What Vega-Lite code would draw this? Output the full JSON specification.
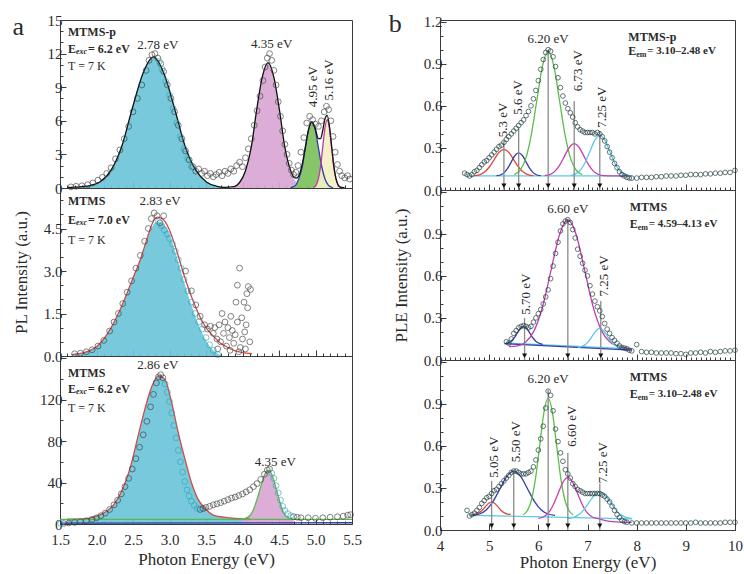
{
"$schema":"https://vega.github.io/schema/vega-lite/v6.json",
"background":"white",
"padding":{"left":11,"top":10,"right":5,"bottom":5},
"config":{
 "view":{"stroke":"#3a3a3a","strokeWidth":1},
 "axis":{"labelFont":"Liberation Serif","labelFontSize":15,"labelColor":"#2a2a2a","titleFont":"Liberation Serif","titleFontSize":17,"titleFontWeight":"normal","titleColor":"#2a2a2a","tickColor":"#3a3a3a","tickWidth":1,"grid":false,"labelPadding":4,"labelFlush":false,"labelOverlap":false,"labelBound":false},
 "axisX":{"labelPadding":14},
 "text":{"font":"Liberation Serif","color":"#2a2a2a"}
},
"datasets":{
"a1":[
{"k":"f","s":"g1","x":1.70,"y":0.05},{"k":"f","s":"g1","x":1.80,"y":0.1},{"k":"f","s":"g1","x":1.91,"y":0.2},{"k":"f","s":"g1","x":2.05,"y":0.55},{"k":"f","s":"g1","x":2.20,"y":1.6},{"k":"f","s":"g1","x":2.35,"y":3.8},{"k":"f","s":"g1","x":2.49,"y":7.1},{"k":"f","s":"g1","x":2.64,"y":10.3},{"k":"f","s":"g1","x":2.78,"y":11.7},{"k":"f","s":"g1","x":2.92,"y":10.3},{"k":"f","s":"g1","x":3.07,"y":7.1},{"k":"f","s":"g1","x":3.21,"y":3.8},{"k":"f","s":"g1","x":3.36,"y":1.6},{"k":"f","s":"g1","x":3.51,"y":0.5},{"k":"f","s":"g1","x":3.65,"y":0.13},{"k":"f","s":"g1","x":3.80,"y":0.02},
{"k":"f","s":"g2","x":3.85,"y":0.02},{"k":"f","s":"g2","x":3.885,"y":0.12},{"k":"f","s":"g2","x":3.96,"y":0.49},{"k":"f","s":"g2","x":4.04,"y":1.52},{"k":"f","s":"g2","x":4.12,"y":3.64},{"k":"f","s":"g2","x":4.19,"y":6.79},{"k":"f","s":"g2","x":4.27,"y":9.88},{"k":"f","s":"g2","x":4.35,"y":11.2},{"k":"f","s":"g2","x":4.43,"y":9.88},{"k":"f","s":"g2","x":4.51,"y":6.79},{"k":"f","s":"g2","x":4.58,"y":3.64},{"k":"f","s":"g2","x":4.66,"y":1.52},{"k":"f","s":"g2","x":4.74,"y":0.49},{"k":"f","s":"g2","x":4.815,"y":0.12},{"k":"f","s":"g2","x":4.85,"y":0.02},
{"k":"f","s":"g3","x":4.66,"y":0.02},{"k":"f","s":"g3","x":4.68,"y":0.07},{"k":"f","s":"g3","x":4.73,"y":0.26},{"k":"f","s":"g3","x":4.77,"y":0.8},{"k":"f","s":"g3","x":4.82,"y":1.92},{"k":"f","s":"g3","x":4.86,"y":3.58},{"k":"f","s":"g3","x":4.905,"y":5.21},{"k":"f","s":"g3","x":4.95,"y":5.9},{"k":"f","s":"g3","x":4.995,"y":5.21},{"k":"f","s":"g3","x":5.04,"y":3.58},{"k":"f","s":"g3","x":5.085,"y":1.92},{"k":"f","s":"g3","x":5.13,"y":0.8},{"k":"f","s":"g3","x":5.175,"y":0.26},{"k":"f","s":"g3","x":5.22,"y":0.07},{"k":"f","s":"g3","x":5.24,"y":0.02},
{"k":"f","s":"g4","x":4.97,"y":0.02},{"k":"f","s":"g4","x":4.98,"y":0.07},{"k":"f","s":"g4","x":5.01,"y":0.27},{"k":"f","s":"g4","x":5.04,"y":0.83},{"k":"f","s":"g4","x":5.07,"y":1.98},{"k":"f","s":"g4","x":5.10,"y":3.7},{"k":"f","s":"g4","x":5.13,"y":5.38},{"k":"f","s":"g4","x":5.16,"y":6.1},{"k":"f","s":"g4","x":5.19,"y":5.38},{"k":"f","s":"g4","x":5.22,"y":3.7},{"k":"f","s":"g4","x":5.25,"y":1.98},{"k":"f","s":"g4","x":5.28,"y":0.83},{"k":"f","s":"g4","x":5.31,"y":0.27},{"k":"f","s":"g4","x":5.34,"y":0.07},{"k":"f","s":"g4","x":5.35,"y":0.02},
{"k":"l","s":"tot","x":1.60,"y":0.03},{"k":"l","s":"tot","x":1.70,"y":0.07},{"k":"l","s":"tot","x":1.80,"y":0.12},{"k":"l","s":"tot","x":1.91,"y":0.22},{"k":"l","s":"tot","x":2.05,"y":0.56},{"k":"l","s":"tot","x":2.20,"y":1.6},{"k":"l","s":"tot","x":2.35,"y":3.8},{"k":"l","s":"tot","x":2.49,"y":7.1},{"k":"l","s":"tot","x":2.64,"y":10.3},{"k":"l","s":"tot","x":2.78,"y":11.7},{"k":"l","s":"tot","x":2.92,"y":10.3},{"k":"l","s":"tot","x":3.07,"y":7.1},{"k":"l","s":"tot","x":3.21,"y":3.8},{"k":"l","s":"tot","x":3.36,"y":1.6},{"k":"l","s":"tot","x":3.51,"y":0.52},{"k":"l","s":"tot","x":3.65,"y":0.15},{"k":"l","s":"tot","x":3.75,"y":0.06},{"k":"l","s":"tot","x":3.885,"y":0.13},{"k":"l","s":"tot","x":3.96,"y":0.49},{"k":"l","s":"tot","x":4.04,"y":1.52},{"k":"l","s":"tot","x":4.12,"y":3.64},{"k":"l","s":"tot","x":4.19,"y":6.79},{"k":"l","s":"tot","x":4.27,"y":9.88},{"k":"l","s":"tot","x":4.35,"y":11.2},{"k":"l","s":"tot","x":4.43,"y":9.88},{"k":"l","s":"tot","x":4.51,"y":6.79},{"k":"l","s":"tot","x":4.58,"y":3.64},{"k":"l","s":"tot","x":4.66,"y":1.55},{"k":"l","s":"tot","x":4.70,"y":1.0},{"k":"l","s":"tot","x":4.74,"y":0.88},{"k":"l","s":"tot","x":4.78,"y":1.23},{"k":"l","s":"tot","x":4.82,"y":2.17},{"k":"l","s":"tot","x":4.86,"y":3.6},{"k":"l","s":"tot","x":4.905,"y":5.21},{"k":"l","s":"tot","x":4.95,"y":5.91},{"k":"l","s":"tot","x":4.995,"y":5.35},{"k":"l","s":"tot","x":5.04,"y":4.41},{"k":"l","s":"tot","x":5.07,"y":4.42},{"k":"l","s":"tot","x":5.10,"y":5.17},{"k":"l","s":"tot","x":5.13,"y":6.18},{"k":"l","s":"tot","x":5.16,"y":6.49},{"k":"l","s":"tot","x":5.19,"y":5.55},{"k":"l","s":"tot","x":5.22,"y":3.77},{"k":"l","s":"tot","x":5.25,"y":2.0},{"k":"l","s":"tot","x":5.28,"y":0.83},{"k":"l","s":"tot","x":5.31,"y":0.27},{"k":"l","s":"tot","x":5.34,"y":0.07},{"k":"l","s":"tot","x":5.40,"y":0.02},
{"k":"p","s":"pk","x":1.65,"y":0.1},{"k":"p","s":"pk","x":1.72,"y":0.15},{"k":"p","s":"pk","x":1.8,"y":0.2},{"k":"p","s":"pk","x":1.88,"y":0.3},{"k":"p","s":"pk","x":1.95,"y":0.45},{"k":"p","s":"pk","x":2.02,"y":0.7},{"k":"p","s":"pk","x":2.08,"y":0.95},{"k":"p","s":"pk","x":2.14,"y":1.3},{"k":"p","s":"pk","x":2.2,"y":1.8},{"k":"p","s":"pk","x":2.26,"y":2.6},{"k":"p","s":"pk","x":2.32,"y":3.4},{"k":"p","s":"pk","x":2.38,"y":4.4},{"k":"p","s":"pk","x":2.44,"y":5.5},{"k":"p","s":"pk","x":2.5,"y":6.8},{"k":"p","s":"pk","x":2.56,"y":8.0},{"k":"p","s":"pk","x":2.62,"y":9.2},{"k":"p","s":"pk","x":2.68,"y":10.5},{"k":"p","s":"pk","x":2.72,"y":11.4},{"k":"p","s":"pk","x":2.76,"y":11.9},{"k":"p","s":"pk","x":2.8,"y":12.0},{"k":"p","s":"pk","x":2.84,"y":11.6},{"k":"p","s":"pk","x":2.88,"y":11.1},{"k":"p","s":"pk","x":2.92,"y":10.4},{"k":"p","s":"pk","x":2.97,"y":9.2},{"k":"p","s":"pk","x":3.02,"y":8.0},{"k":"p","s":"pk","x":3.07,"y":6.8},{"k":"p","s":"pk","x":3.12,"y":5.6},{"k":"p","s":"pk","x":3.17,"y":4.4},{"k":"p","s":"pk","x":3.22,"y":3.3},{"k":"p","s":"pk","x":3.27,"y":2.5},{"k":"p","s":"pk","x":3.32,"y":1.9},{"k":"p","s":"pk","x":3.36,"y":1.5},{"k":"p","s":"pk","x":3.4,"y":1.7},{"k":"p","s":"pk","x":3.44,"y":1.3},{"k":"p","s":"pk","x":3.48,"y":1.5},{"k":"p","s":"pk","x":3.52,"y":1.1},{"k":"p","s":"pk","x":3.56,"y":1.3},{"k":"p","s":"pk","x":3.6,"y":1.0},{"k":"p","s":"pk","x":3.64,"y":1.2},{"k":"p","s":"pk","x":3.68,"y":1.4},{"k":"p","s":"pk","x":3.72,"y":1.1},{"k":"p","s":"pk","x":3.76,"y":1.5},{"k":"p","s":"pk","x":3.8,"y":1.3},{"k":"p","s":"pk","x":3.84,"y":1.7},{"k":"p","s":"pk","x":3.88,"y":1.5},{"k":"p","s":"pk","x":3.92,"y":2.0},{"k":"p","s":"pk","x":3.96,"y":2.3},{"k":"p","s":"pk","x":4.0,"y":1.9},{"k":"p","s":"pk","x":4.04,"y":2.7},{"k":"p","s":"pk","x":4.08,"y":3.5},{"k":"p","s":"pk","x":4.12,"y":4.4},{"k":"p","s":"pk","x":4.16,"y":5.6},{"k":"p","s":"pk","x":4.2,"y":6.9},{"k":"p","s":"pk","x":4.24,"y":8.2},{"k":"p","s":"pk","x":4.28,"y":9.6},{"k":"p","s":"pk","x":4.31,"y":10.8},{"k":"p","s":"pk","x":4.34,"y":11.6},{"k":"p","s":"pk","x":4.37,"y":12.0},{"k":"p","s":"pk","x":4.4,"y":11.4},{"k":"p","s":"pk","x":4.43,"y":10.5},{"k":"p","s":"pk","x":4.46,"y":9.2},{"k":"p","s":"pk","x":4.49,"y":7.7},{"k":"p","s":"pk","x":4.52,"y":6.4},{"k":"p","s":"pk","x":4.55,"y":5.1},{"k":"p","s":"pk","x":4.58,"y":3.9},{"k":"p","s":"pk","x":4.61,"y":3.0},{"k":"p","s":"pk","x":4.64,"y":2.2},{"k":"p","s":"pk","x":4.67,"y":1.6},{"k":"p","s":"pk","x":4.7,"y":1.2},{"k":"p","s":"pk","x":4.73,"y":1.4},{"k":"p","s":"pk","x":4.76,"y":2.0},{"k":"p","s":"pk","x":4.8,"y":3.2},{"k":"p","s":"pk","x":4.84,"y":4.5},{"k":"p","s":"pk","x":4.88,"y":5.8},{"k":"p","s":"pk","x":4.92,"y":6.4},{"k":"p","s":"pk","x":4.96,"y":6.1},{"k":"p","s":"pk","x":5.0,"y":5.7},{"k":"p","s":"pk","x":5.04,"y":5.5},{"k":"p","s":"pk","x":5.08,"y":6.0},{"k":"p","s":"pk","x":5.12,"y":6.8},{"k":"p","s":"pk","x":5.15,"y":7.3},{"k":"p","s":"pk","x":5.18,"y":7.0},{"k":"p","s":"pk","x":5.21,"y":6.0},{"k":"p","s":"pk","x":5.24,"y":4.6},{"k":"p","s":"pk","x":5.27,"y":3.2},{"k":"p","s":"pk","x":5.3,"y":2.1},{"k":"p","s":"pk","x":5.33,"y":1.5},{"k":"p","s":"pk","x":5.36,"y":1.1},{"k":"p","s":"pk","x":5.4,"y":0.9},{"k":"p","s":"pk","x":5.44,"y":1.1},{"k":"p","s":"pk","x":5.47,"y":0.8},
{"k":"p","s":"pc","x":2.86,"y":11.3},{"k":"p","s":"pc","x":2.9,"y":10.6},{"k":"p","s":"pc","x":2.95,"y":9.5},{"k":"p","s":"pc","x":3.0,"y":8.3},{"k":"p","s":"pc","x":3.05,"y":7.1},{"k":"p","s":"pc","x":3.1,"y":5.8},{"k":"p","s":"pc","x":3.15,"y":4.6},{"k":"p","s":"pc","x":3.2,"y":3.5},{"k":"p","s":"pc","x":3.25,"y":2.6},{"k":"p","s":"pc","x":3.3,"y":1.9},
{"k":"pl","t":"2.78 eV","x":2.84,"y":12.75},{"k":"pl","t":"4.35 eV","x":4.40,"y":12.9},
{"k":"pr","t":"4.95 eV","x":4.97,"y":9.05},{"k":"pr","t":"5.16 eV","x":5.19,"y":9.65},
{"k":"nm","t":"MTMS-p","x":1.61,"y":13.9},
{"k":"E","t":"E","x":1.61,"y":12.45},{"k":"sub","t":"exc","x":1.61,"y":12.45},{"k":"rest","t":"= 6.2 eV","x":1.61,"y":12.45},
{"k":"T","t":"T = 7 K","x":1.61,"y":10.9},
{"k":"pn","t":"a","x":0.93,"y":14.4}
],
"a2":[
{"k":"f","s":"g1","x":1.66,"y":0.05},{"k":"f","s":"g1","x":1.8,"y":0.1},{"k":"f","s":"g1","x":1.9,"y":0.18},{"k":"f","s":"g1","x":2.0,"y":0.33},{"k":"f","s":"g1","x":2.1,"y":0.6},{"k":"f","s":"g1","x":2.2,"y":1.0},{"k":"f","s":"g1","x":2.3,"y":1.5},{"k":"f","s":"g1","x":2.4,"y":2.1},{"k":"f","s":"g1","x":2.5,"y":2.75},{"k":"f","s":"g1","x":2.6,"y":3.4},{"k":"f","s":"g1","x":2.7,"y":4.15},{"k":"f","s":"g1","x":2.76,"y":4.55},{"k":"f","s":"g1","x":2.83,"y":4.75},{"k":"f","s":"g1","x":2.9,"y":4.7},{"k":"f","s":"g1","x":3.0,"y":4.3},{"k":"f","s":"g1","x":3.1,"y":3.5},{"k":"f","s":"g1","x":3.2,"y":2.6},{"k":"f","s":"g1","x":3.3,"y":1.8},{"k":"f","s":"g1","x":3.4,"y":1.1},{"k":"f","s":"g1","x":3.5,"y":0.55},{"k":"f","s":"g1","x":3.6,"y":0.2},{"k":"f","s":"g1","x":3.7,"y":0.03},
{"k":"l","s":"red","x":1.66,"y":0.05},{"k":"l","s":"red","x":1.8,"y":0.1},{"k":"l","s":"red","x":1.9,"y":0.18},{"k":"l","s":"red","x":2.0,"y":0.33},{"k":"l","s":"red","x":2.1,"y":0.6},{"k":"l","s":"red","x":2.2,"y":1.0},{"k":"l","s":"red","x":2.3,"y":1.5},{"k":"l","s":"red","x":2.4,"y":2.1},{"k":"l","s":"red","x":2.5,"y":2.75},{"k":"l","s":"red","x":2.6,"y":3.4},{"k":"l","s":"red","x":2.7,"y":4.2},{"k":"l","s":"red","x":2.76,"y":4.65},{"k":"l","s":"red","x":2.83,"y":4.9},{"k":"l","s":"red","x":2.9,"y":4.85},{"k":"l","s":"red","x":3.0,"y":4.45},{"k":"l","s":"red","x":3.1,"y":3.7},{"k":"l","s":"red","x":3.2,"y":2.85},{"k":"l","s":"red","x":3.3,"y":2.1},{"k":"l","s":"red","x":3.4,"y":1.48},{"k":"l","s":"red","x":3.5,"y":1.0},{"k":"l","s":"red","x":3.6,"y":0.7},{"k":"l","s":"red","x":3.7,"y":0.45},{"k":"l","s":"red","x":3.8,"y":0.3},{"k":"l","s":"red","x":3.9,"y":0.18},{"k":"l","s":"red","x":4.0,"y":0.12},{"k":"l","s":"red","x":4.13,"y":0.08},
{"k":"p","s":"pk","x":1.7,"y":0.08},{"k":"p","s":"pk","x":1.78,"y":0.1},{"k":"p","s":"pk","x":1.86,"y":0.15},{"k":"p","s":"pk","x":1.94,"y":0.22},{"k":"p","s":"pk","x":2.02,"y":0.35},{"k":"p","s":"pk","x":2.1,"y":0.55},{"k":"p","s":"pk","x":2.18,"y":0.88},{"k":"p","s":"pk","x":2.24,"y":1.2},{"k":"p","s":"pk","x":2.3,"y":1.5},{"k":"p","s":"pk","x":2.36,"y":1.85},{"k":"p","s":"pk","x":2.42,"y":2.25},{"k":"p","s":"pk","x":2.48,"y":2.65},{"k":"p","s":"pk","x":2.54,"y":3.1},{"k":"p","s":"pk","x":2.6,"y":3.55},{"k":"p","s":"pk","x":2.66,"y":4.05},{"k":"p","s":"pk","x":2.71,"y":4.5},{"k":"p","s":"pk","x":2.75,"y":4.85},{"k":"p","s":"pk","x":2.79,"y":5.05},{"k":"p","s":"pk","x":2.83,"y":4.95},{"k":"p","s":"pk","x":2.87,"y":4.7},{"k":"p","s":"pk","x":2.92,"y":4.95},{"k":"p","s":"pk","x":3.22,"y":3.0},{"k":"p","s":"pk","x":3.3,"y":2.3},{"k":"p","s":"pk","x":3.36,"y":1.8},{"k":"p","s":"pk","x":3.42,"y":1.4},{"k":"p","s":"pk","x":3.48,"y":1.1},{"k":"p","s":"pk","x":3.52,"y":0.95},{"k":"p","s":"pk","x":3.56,"y":1.05},{"k":"p","s":"pk","x":3.6,"y":0.8},{"k":"p","s":"pk","x":3.62,"y":1.0},{"k":"p","s":"pk","x":3.65,"y":0.6},{"k":"p","s":"pk","x":3.68,"y":1.1},{"k":"p","s":"pk","x":3.7,"y":0.5},{"k":"p","s":"pk","x":3.72,"y":1.5},{"k":"p","s":"pk","x":3.74,"y":0.8},{"k":"p","s":"pk","x":3.76,"y":1.2},{"k":"p","s":"pk","x":3.78,"y":0.35},{"k":"p","s":"pk","x":3.8,"y":1.0},{"k":"p","s":"pk","x":3.82,"y":0.65},{"k":"p","s":"pk","x":3.84,"y":1.4},{"k":"p","s":"pk","x":3.86,"y":0.9},{"k":"p","s":"pk","x":3.88,"y":0.45},{"k":"p","s":"pk","x":3.9,"y":0.75},{"k":"p","s":"pk","x":3.91,"y":1.9},{"k":"p","s":"pk","x":3.93,"y":1.2},{"k":"p","s":"pk","x":3.93,"y":2.5},{"k":"p","s":"pk","x":3.96,"y":3.1},{"k":"p","s":"pk","x":3.97,"y":0.3},{"k":"p","s":"pk","x":3.99,"y":1.35},{"k":"p","s":"pk","x":4.0,"y":0.6},{"k":"p","s":"pk","x":4.02,"y":1.9},{"k":"p","s":"pk","x":4.03,"y":0.85},{"k":"p","s":"pk","x":4.04,"y":0.25},{"k":"p","s":"pk","x":4.05,"y":1.1},{"k":"p","s":"pk","x":4.06,"y":2.2},{"k":"p","s":"pk","x":4.07,"y":1.7},{"k":"p","s":"pk","x":4.08,"y":2.45},{"k":"p","s":"pk","x":4.1,"y":0.5},{"k":"p","s":"pk","x":4.11,"y":2.35},{"k":"p","s":"pk","x":3.95,"y":0.15},{"k":"p","s":"pk","x":3.83,"y":0.2},{"k":"p","s":"pk","x":3.66,"y":0.25},
{"k":"p","s":"pc","x":2.85,"y":4.75},{"k":"p","s":"pc","x":2.89,"y":4.6},{"k":"p","s":"pc","x":2.93,"y":4.45},{"k":"p","s":"pc","x":2.97,"y":4.3},{"k":"p","s":"pc","x":3.0,"y":4.15},{"k":"p","s":"pc","x":3.04,"y":3.95},{"k":"p","s":"pc","x":3.08,"y":3.7},{"k":"p","s":"pc","x":3.12,"y":3.4},{"k":"p","s":"pc","x":3.16,"y":3.1},{"k":"p","s":"pc","x":3.2,"y":2.7},{"k":"p","s":"pc","x":3.25,"y":2.3},{"k":"p","s":"pc","x":3.3,"y":1.9},{"k":"p","s":"pc","x":3.35,"y":1.5},{"k":"p","s":"pc","x":3.4,"y":1.2},{"k":"p","s":"pc","x":3.45,"y":0.95},{"k":"p","s":"pc","x":3.5,"y":0.65},{"k":"p","s":"pc","x":3.55,"y":0.4},{"k":"p","s":"pc","x":3.6,"y":0.2},{"k":"p","s":"pc","x":3.66,"y":0.05},
{"k":"pl","t":"2.83 eV","x":2.87,"y":5.47},
{"k":"nm","t":"MTMS","x":1.61,"y":5.47},
{"k":"E","t":"E","x":1.61,"y":4.81},{"k":"sub","t":"exc","x":1.61,"y":4.81},{"k":"rest","t":"= 7.0 eV","x":1.61,"y":4.81},
{"k":"T","t":"T = 7 K","x":1.61,"y":4.1}
],
"a3":[
{"k":"f","s":"g1","x":1.6,"y":4.6},{"k":"f","s":"g1","x":1.8,"y":4.8},{"k":"f","s":"g1","x":1.89,"y":5.5},{"k":"f","s":"g1","x":2.0,"y":7.5},{"k":"f","s":"g1","x":2.12,"y":11.5},{"k":"f","s":"g1","x":2.24,"y":19},{"k":"f","s":"g1","x":2.34,"y":31},{"k":"f","s":"g1","x":2.42,"y":45},{"k":"f","s":"g1","x":2.48,"y":59},{"k":"f","s":"g1","x":2.57,"y":85},{"k":"f","s":"g1","x":2.66,"y":110},{"k":"f","s":"g1","x":2.76,"y":133},{"k":"f","s":"g1","x":2.85,"y":143},{"k":"f","s":"g1","x":2.94,"y":139},{"k":"f","s":"g1","x":3.03,"y":117},{"k":"f","s":"g1","x":3.12,"y":88},{"k":"f","s":"g1","x":3.21,"y":63},{"k":"f","s":"g1","x":3.3,"y":40},{"k":"f","s":"g1","x":3.39,"y":24},{"k":"f","s":"g1","x":3.49,"y":15},{"k":"f","s":"g1","x":3.62,"y":8},{"k":"f","s":"g1","x":3.81,"y":6},{"k":"f","s":"g1","x":3.99,"y":5},{"k":"f","s":"g1","x":4.1,"y":4.8},
{"k":"l","s":"red","x":1.6,"y":4.6},{"k":"l","s":"red","x":1.8,"y":4.8},{"k":"l","s":"red","x":1.89,"y":5.5},{"k":"l","s":"red","x":2.0,"y":7.5},{"k":"l","s":"red","x":2.12,"y":11.5},{"k":"l","s":"red","x":2.24,"y":19},{"k":"l","s":"red","x":2.34,"y":31},{"k":"l","s":"red","x":2.42,"y":45},{"k":"l","s":"red","x":2.48,"y":59},{"k":"l","s":"red","x":2.57,"y":85},{"k":"l","s":"red","x":2.66,"y":110},{"k":"l","s":"red","x":2.76,"y":133},{"k":"l","s":"red","x":2.85,"y":143},{"k":"l","s":"red","x":2.94,"y":139},{"k":"l","s":"red","x":3.03,"y":117},{"k":"l","s":"red","x":3.12,"y":88},{"k":"l","s":"red","x":3.21,"y":63},{"k":"l","s":"red","x":3.3,"y":40},{"k":"l","s":"red","x":3.39,"y":24},{"k":"l","s":"red","x":3.49,"y":15},{"k":"l","s":"red","x":3.62,"y":8},{"k":"l","s":"red","x":3.81,"y":6},{"k":"l","s":"red","x":3.99,"y":5},{"k":"l","s":"red","x":4.1,"y":4.8},
{"k":"f","s":"g2","x":4.0,"y":4.5},{"k":"f","s":"g2","x":4.1,"y":8},{"k":"f","s":"g2","x":4.15,"y":14},{"k":"f","s":"g2","x":4.2,"y":24},{"k":"f","s":"g2","x":4.25,"y":36},{"k":"f","s":"g2","x":4.3,"y":47},{"k":"f","s":"g2","x":4.35,"y":52},{"k":"f","s":"g2","x":4.4,"y":48},{"k":"f","s":"g2","x":4.45,"y":37},{"k":"f","s":"g2","x":4.5,"y":24},{"k":"f","s":"g2","x":4.55,"y":13},{"k":"f","s":"g2","x":4.6,"y":7},{"k":"f","s":"g2","x":4.7,"y":4.5},
{"k":"l","s":"gout","x":4.0,"y":4.5},{"k":"l","s":"gout","x":4.1,"y":8},{"k":"l","s":"gout","x":4.15,"y":14},{"k":"l","s":"gout","x":4.2,"y":24},{"k":"l","s":"gout","x":4.25,"y":36},{"k":"l","s":"gout","x":4.3,"y":47},{"k":"l","s":"gout","x":4.35,"y":52},{"k":"l","s":"gout","x":4.4,"y":48},{"k":"l","s":"gout","x":4.45,"y":37},{"k":"l","s":"gout","x":4.5,"y":24},{"k":"l","s":"gout","x":4.55,"y":13},{"k":"l","s":"gout","x":4.6,"y":7},{"k":"l","s":"gout","x":4.7,"y":4.5},
{"k":"l","s":"gb","x":1.5,"y":4.5},{"k":"l","s":"gb","x":5.5,"y":4.5},
{"k":"l","s":"bb","x":1.5,"y":0.8},{"k":"l","s":"bb","x":5.5,"y":1.2},
{"k":"p","s":"pc","x":1.51,"y":0.5},
{"k":"p","s":"pk","x":1.55,"y":0.5},{"k":"p","s":"pk","x":1.62,"y":1},{"k":"p","s":"pk","x":1.7,"y":1.5},{"k":"p","s":"pk","x":1.78,"y":2.2},{"k":"p","s":"pk","x":1.86,"y":3.2},{"k":"p","s":"pk","x":1.94,"y":4.5},{"k":"p","s":"pk","x":2.0,"y":6},{"k":"p","s":"pk","x":2.06,"y":8},{"k":"p","s":"pk","x":2.12,"y":10.5},{"k":"p","s":"pk","x":2.18,"y":14},{"k":"p","s":"pk","x":2.24,"y":18.5},{"k":"p","s":"pk","x":2.29,"y":23},{"k":"p","s":"pk","x":2.34,"y":29},{"k":"p","s":"pk","x":2.39,"y":36},{"k":"p","s":"pk","x":2.44,"y":44},{"k":"p","s":"pk","x":2.49,"y":53},{"k":"p","s":"pk","x":2.54,"y":63},{"k":"p","s":"pk","x":2.59,"y":74},{"k":"p","s":"pk","x":2.64,"y":86},{"k":"p","s":"pk","x":2.69,"y":99},{"k":"p","s":"pk","x":2.74,"y":113},{"k":"p","s":"pk","x":2.78,"y":125},{"k":"p","s":"pk","x":2.82,"y":136},{"k":"p","s":"pk","x":2.85,"y":142},{"k":"p","s":"pk","x":2.88,"y":144},{"k":"p","s":"pk","x":2.91,"y":141},
{"k":"p","s":"pc","x":2.94,"y":135},{"k":"p","s":"pc","x":2.97,"y":127},{"k":"p","s":"pc","x":3.0,"y":118},{"k":"p","s":"pc","x":3.03,"y":107},{"k":"p","s":"pc","x":3.06,"y":95},{"k":"p","s":"pc","x":3.09,"y":83},{"k":"p","s":"pc","x":3.12,"y":71},{"k":"p","s":"pc","x":3.15,"y":60},{"k":"p","s":"pc","x":3.18,"y":50},{"k":"p","s":"pc","x":3.21,"y":41},{"k":"p","s":"pc","x":3.24,"y":33},{"k":"p","s":"pc","x":3.27,"y":27},{"k":"p","s":"pc","x":3.3,"y":22},{"k":"p","s":"pc","x":3.34,"y":18},{"k":"p","s":"pc","x":3.38,"y":15},
{"k":"p","s":"pk","x":3.42,"y":14},{"k":"p","s":"pk","x":3.46,"y":15},{"k":"p","s":"pk","x":3.5,"y":16},{"k":"p","s":"pk","x":3.55,"y":17},{"k":"p","s":"pk","x":3.6,"y":18.5},{"k":"p","s":"pk","x":3.65,"y":19.5},{"k":"p","s":"pk","x":3.7,"y":20.5},{"k":"p","s":"pk","x":3.75,"y":22},{"k":"p","s":"pk","x":3.8,"y":23.5},{"k":"p","s":"pk","x":3.85,"y":25},{"k":"p","s":"pk","x":3.9,"y":26},{"k":"p","s":"pk","x":3.95,"y":27.5},{"k":"p","s":"pk","x":4.0,"y":29},{"k":"p","s":"pk","x":4.05,"y":31},{"k":"p","s":"pk","x":4.1,"y":33},{"k":"p","s":"pk","x":4.15,"y":36},{"k":"p","s":"pk","x":4.2,"y":39},{"k":"p","s":"pk","x":4.25,"y":43},{"k":"p","s":"pk","x":4.3,"y":48},{"k":"p","s":"pk","x":4.34,"y":52},{"k":"p","s":"pk","x":4.37,"y":53},
{"k":"p","s":"pc","x":4.4,"y":49},{"k":"p","s":"pc","x":4.43,"y":44},{"k":"p","s":"pc","x":4.46,"y":37},{"k":"p","s":"pc","x":4.49,"y":30},{"k":"p","s":"pc","x":4.52,"y":23},{"k":"p","s":"pc","x":4.55,"y":17},{"k":"p","s":"pc","x":4.58,"y":13},{"k":"p","s":"pc","x":4.62,"y":10},{"k":"p","s":"pc","x":4.66,"y":8},
{"k":"p","s":"pk","x":4.7,"y":7},{"k":"p","s":"pk","x":4.75,"y":6.5},{"k":"p","s":"pk","x":4.8,"y":6},{"k":"p","s":"pk","x":4.9,"y":6},{"k":"p","s":"pk","x":5.0,"y":5.5},{"k":"p","s":"pk","x":5.1,"y":6},{"k":"p","s":"pk","x":5.2,"y":6.5},{"k":"p","s":"pk","x":5.3,"y":7},{"k":"p","s":"pk","x":5.38,"y":7.5},{"k":"p","s":"pk","x":5.44,"y":8.5},{"k":"p","s":"pk","x":5.48,"y":9},
{"k":"pl","t":"2.86 eV","x":2.84,"y":153.6},{"k":"pl","t":"4.35 eV","x":4.45,"y":60},
{"k":"nm","t":"MTMS","x":1.61,"y":146},
{"k":"E","t":"E","x":1.61,"y":130},{"k":"sub","t":"exc","x":1.61,"y":130},{"k":"rest","t":"= 6.2 eV","x":1.61,"y":130},
{"k":"T","t":"T = 7 K","x":1.61,"y":112}
],
"b1":[
{"k":"l","s":"base","x":4.6,"y":0.1},{"k":"l","s":"base","x":7.9,"y":0.1},
{"k":"l","s":"r","x":4.7,"y":0.102},{"k":"l","s":"r","x":4.8,"y":0.108},{"k":"l","s":"r","x":4.9,"y":0.126},{"k":"l","s":"r","x":5.0,"y":0.162},{"k":"l","s":"r","x":5.1,"y":0.215},{"k":"l","s":"r","x":5.2,"y":0.268},{"k":"l","s":"r","x":5.3,"y":0.29},{"k":"l","s":"r","x":5.4,"y":0.268},{"k":"l","s":"r","x":5.5,"y":0.215},{"k":"l","s":"r","x":5.6,"y":0.162},{"k":"l","s":"r","x":5.7,"y":0.126},{"k":"l","s":"r","x":5.8,"y":0.108},{"k":"l","s":"r","x":5.9,"y":0.102},
{"k":"l","s":"b","x":5.15,"y":0.102},{"k":"l","s":"b","x":5.225,"y":0.107},{"k":"l","s":"b","x":5.3,"y":0.122},{"k":"l","s":"b","x":5.375,"y":0.154},{"k":"l","s":"b","x":5.45,"y":0.2},{"k":"l","s":"b","x":5.525,"y":0.246},{"k":"l","s":"b","x":5.6,"y":0.265},{"k":"l","s":"b","x":5.675,"y":0.246},{"k":"l","s":"b","x":5.75,"y":0.2},{"k":"l","s":"b","x":5.825,"y":0.154},{"k":"l","s":"b","x":5.9,"y":0.122},{"k":"l","s":"b","x":5.975,"y":0.107},{"k":"l","s":"b","x":6.05,"y":0.102},
{"k":"l","s":"g","x":5.51,"y":0.11},{"k":"l","s":"g","x":5.625,"y":0.139},{"k":"l","s":"g","x":5.74,"y":0.22},{"k":"l","s":"g","x":5.855,"y":0.389},{"k":"l","s":"g","x":5.97,"y":0.64},{"k":"l","s":"g","x":6.085,"y":0.885},{"k":"l","s":"g","x":6.2,"y":0.99},{"k":"l","s":"g","x":6.315,"y":0.885},{"k":"l","s":"g","x":6.43,"y":0.64},{"k":"l","s":"g","x":6.545,"y":0.389},{"k":"l","s":"g","x":6.66,"y":0.22},{"k":"l","s":"g","x":6.775,"y":0.139},{"k":"l","s":"g","x":6.89,"y":0.11},
{"k":"l","s":"m","x":6.13,"y":0.103},{"k":"l","s":"m","x":6.23,"y":0.11},{"k":"l","s":"m","x":6.33,"y":0.131},{"k":"l","s":"m","x":6.43,"y":0.175},{"k":"l","s":"m","x":6.53,"y":0.24},{"k":"l","s":"m","x":6.63,"y":0.303},{"k":"l","s":"m","x":6.73,"y":0.33},{"k":"l","s":"m","x":6.83,"y":0.303},{"k":"l","s":"m","x":6.93,"y":0.24},{"k":"l","s":"m","x":7.03,"y":0.175},{"k":"l","s":"m","x":7.13,"y":0.131},{"k":"l","s":"m","x":7.23,"y":0.11},{"k":"l","s":"m","x":7.33,"y":0.103},{"k":"l","s":"m","x":7.8,"y":0.1},
{"k":"l","s":"c","x":6.65,"y":0.103},{"k":"l","s":"c","x":6.75,"y":0.113},{"k":"l","s":"c","x":6.85,"y":0.139},{"k":"l","s":"c","x":6.95,"y":0.194},{"k":"l","s":"c","x":7.05,"y":0.276},{"k":"l","s":"c","x":7.15,"y":0.356},{"k":"l","s":"c","x":7.25,"y":0.39},{"k":"l","s":"c","x":7.35,"y":0.356},{"k":"l","s":"c","x":7.45,"y":0.276},{"k":"l","s":"c","x":7.55,"y":0.194},{"k":"l","s":"c","x":7.65,"y":0.139},{"k":"l","s":"c","x":7.75,"y":0.113},{"k":"l","s":"c","x":7.85,"y":0.103},
{"k":"v","x":5.3,"y":0.35},{"k":"v","x":5.6,"y":0.44},{"k":"v","x":6.2,"y":1.0},{"k":"v","x":6.73,"y":0.635},{"k":"v","x":7.25,"y":0.42},
{"k":"p","s":"pk","x":4.5,"y":0.12},{"k":"p","s":"pk","x":4.55,"y":0.11},{"k":"p","s":"pk","x":4.6,"y":0.1},{"k":"p","s":"pk","x":4.65,"y":0.11},{"k":"p","s":"pk","x":4.7,"y":0.13},{"k":"p","s":"pk","x":4.75,"y":0.14},{"k":"p","s":"pk","x":4.8,"y":0.16},{"k":"p","s":"pk","x":4.85,"y":0.18},{"k":"p","s":"pk","x":4.9,"y":0.2},{"k":"p","s":"pk","x":4.95,"y":0.21},{"k":"p","s":"pk","x":5.0,"y":0.23},{"k":"p","s":"pk","x":5.05,"y":0.25},{"k":"p","s":"pk","x":5.1,"y":0.27},{"k":"p","s":"pk","x":5.15,"y":0.29},{"k":"p","s":"pk","x":5.2,"y":0.31},{"k":"p","s":"pk","x":5.25,"y":0.32},{"k":"p","s":"pk","x":5.3,"y":0.34},{"k":"p","s":"pk","x":5.35,"y":0.36},{"k":"p","s":"pk","x":5.4,"y":0.38},{"k":"p","s":"pk","x":5.45,"y":0.4},{"k":"p","s":"pk","x":5.5,"y":0.42},{"k":"p","s":"pk","x":5.55,"y":0.44},{"k":"p","s":"pk","x":5.6,"y":0.46},{"k":"p","s":"pk","x":5.65,"y":0.48},{"k":"p","s":"pk","x":5.7,"y":0.5},{"k":"p","s":"pk","x":5.75,"y":0.53},{"k":"p","s":"pk","x":5.8,"y":0.56},{"k":"p","s":"pk","x":5.85,"y":0.6},{"k":"p","s":"pk","x":5.9,"y":0.65},{"k":"p","s":"pk","x":5.95,"y":0.71},{"k":"p","s":"pk","x":6.0,"y":0.78},{"k":"p","s":"pk","x":6.05,"y":0.86},{"k":"p","s":"pk","x":6.1,"y":0.93},{"k":"p","s":"pk","x":6.15,"y":0.98},{"k":"p","s":"pk","x":6.2,"y":1.0},{"k":"p","s":"pk","x":6.25,"y":0.99},{"k":"p","s":"pk","x":6.3,"y":0.95},{"k":"p","s":"pk","x":6.35,"y":0.88},{"k":"p","s":"pk","x":6.4,"y":0.8},{"k":"p","s":"pk","x":6.45,"y":0.73},{"k":"p","s":"pk","x":6.5,"y":0.67},{"k":"p","s":"pk","x":6.55,"y":0.62},{"k":"p","s":"pk","x":6.6,"y":0.58},{"k":"p","s":"pk","x":6.65,"y":0.55},{"k":"p","s":"pk","x":6.7,"y":0.52},{"k":"p","s":"pk","x":6.75,"y":0.48},{"k":"p","s":"pk","x":6.8,"y":0.45},{"k":"p","s":"pk","x":6.85,"y":0.43},{"k":"p","s":"pk","x":6.9,"y":0.42},{"k":"p","s":"pk","x":6.95,"y":0.41},{"k":"p","s":"pk","x":7.0,"y":0.41},{"k":"p","s":"pk","x":7.05,"y":0.41},{"k":"p","s":"pk","x":7.1,"y":0.41},{"k":"p","s":"pk","x":7.15,"y":0.4},{"k":"p","s":"pk","x":7.2,"y":0.41},{"k":"p","s":"pk","x":7.25,"y":0.4},{"k":"p","s":"pk","x":7.3,"y":0.38},{"k":"p","s":"pk","x":7.35,"y":0.35},{"k":"p","s":"pk","x":7.4,"y":0.31},{"k":"p","s":"pk","x":7.45,"y":0.27},{"k":"p","s":"pk","x":7.5,"y":0.23},{"k":"p","s":"pk","x":7.55,"y":0.19},{"k":"p","s":"pk","x":7.6,"y":0.16},{"k":"p","s":"pk","x":7.65,"y":0.13},{"k":"p","s":"pk","x":7.7,"y":0.11},{"k":"p","s":"pk","x":7.75,"y":0.1},{"k":"p","s":"pk","x":7.8,"y":0.09},{"k":"p","s":"pk","x":7.85,"y":0.085},{"k":"p","s":"pk","x":7.9,"y":0.085},{"k":"p","s":"pk","x":8.0,"y":0.085},{"k":"p","s":"pk","x":8.1,"y":0.09},{"k":"p","s":"pk","x":8.2,"y":0.09},{"k":"p","s":"pk","x":8.3,"y":0.09},{"k":"p","s":"pk","x":8.4,"y":0.095},{"k":"p","s":"pk","x":8.5,"y":0.095},{"k":"p","s":"pk","x":8.6,"y":0.1},{"k":"p","s":"pk","x":8.7,"y":0.1},{"k":"p","s":"pk","x":8.8,"y":0.1},{"k":"p","s":"pk","x":8.9,"y":0.105},{"k":"p","s":"pk","x":9.0,"y":0.105},{"k":"p","s":"pk","x":9.1,"y":0.11},{"k":"p","s":"pk","x":9.2,"y":0.11},{"k":"p","s":"pk","x":9.3,"y":0.11},{"k":"p","s":"pk","x":9.4,"y":0.115},{"k":"p","s":"pk","x":9.5,"y":0.115},{"k":"p","s":"pk","x":9.6,"y":0.12},{"k":"p","s":"pk","x":9.7,"y":0.12},{"k":"p","s":"pk","x":9.8,"y":0.125},{"k":"p","s":"pk","x":9.9,"y":0.125},{"k":"p","s":"pk","x":10.0,"y":0.14},
{"k":"pl","t":"6.20 eV","x":6.2,"y":1.08},
{"k":"pr","t":"5.3 eV","x":5.29,"y":0.5},{"k":"pr","t":"5.6 eV","x":5.59,"y":0.66},{"k":"pr","t":"6.73 eV","x":6.81,"y":0.85},{"k":"pr","t":"7.25 eV","x":7.29,"y":0.59},
{"k":"nm","t":"MTMS-p","x":7.83,"y":1.09},
{"k":"E","t":"E","x":7.83,"y":0.99},{"k":"sub","t":"em","x":7.83,"y":0.99},{"k":"rest","t":"= 3.10–2.48 eV","x":7.83,"y":0.99},
{"k":"pn","t":"b","x":3.09,"y":1.18}
],
"b2":[
{"k":"l","s":"base","x":5.35,"y":0.12},{"k":"l","s":"base","x":7.9,"y":0.08},
{"k":"l","s":"bl","x":5.35,"y":0.115},{"k":"l","s":"bl","x":7.9,"y":0.07},
{"k":"l","s":"b","x":5.31,"y":0.116},{"k":"l","s":"b","x":5.375,"y":0.12},{"k":"l","s":"b","x":5.44,"y":0.132},{"k":"l","s":"b","x":5.505,"y":0.156},{"k":"l","s":"b","x":5.57,"y":0.191},{"k":"l","s":"b","x":5.635,"y":0.225},{"k":"l","s":"b","x":5.7,"y":0.24},{"k":"l","s":"b","x":5.765,"y":0.225},{"k":"l","s":"b","x":5.83,"y":0.19},{"k":"l","s":"b","x":5.895,"y":0.155},{"k":"l","s":"b","x":5.96,"y":0.13},{"k":"l","s":"b","x":6.025,"y":0.118},{"k":"l","s":"b","x":6.09,"y":0.112},
{"k":"l","s":"m","x":5.4,"y":0.095},{"k":"l","s":"m","x":5.58,"y":0.1},{"k":"l","s":"m","x":5.75,"y":0.13},{"k":"l","s":"m","x":5.92,"y":0.213},{"k":"l","s":"m","x":6.09,"y":0.385},{"k":"l","s":"m","x":6.26,"y":0.642},{"k":"l","s":"m","x":6.43,"y":0.893},{"k":"l","s":"m","x":6.6,"y":1.0},{"k":"l","s":"m","x":6.77,"y":0.893},{"k":"l","s":"m","x":6.94,"y":0.642},{"k":"l","s":"m","x":7.11,"y":0.385},{"k":"l","s":"m","x":7.28,"y":0.213},{"k":"l","s":"m","x":7.45,"y":0.13},{"k":"l","s":"m","x":7.62,"y":0.1},{"k":"l","s":"m","x":7.85,"y":0.08},
{"k":"l","s":"c","x":6.8,"y":0.091},{"k":"l","s":"c","x":6.875,"y":0.096},{"k":"l","s":"c","x":6.95,"y":0.108},{"k":"l","s":"c","x":7.025,"y":0.134},{"k":"l","s":"c","x":7.1,"y":0.172},{"k":"l","s":"c","x":7.175,"y":0.209},{"k":"l","s":"c","x":7.25,"y":0.225},{"k":"l","s":"c","x":7.325,"y":0.209},{"k":"l","s":"c","x":7.4,"y":0.172},{"k":"l","s":"c","x":7.475,"y":0.134},{"k":"l","s":"c","x":7.55,"y":0.108},{"k":"l","s":"c","x":7.625,"y":0.096},{"k":"l","s":"c","x":7.7,"y":0.091},
{"k":"v","x":5.72,"y":0.3},{"k":"v","x":6.6,"y":1.0},{"k":"v","x":7.27,"y":0.42},
{"k":"p","s":"pk","x":5.35,"y":0.13},{"k":"p","s":"pk","x":5.4,"y":0.12},{"k":"p","s":"pk","x":5.45,"y":0.15},{"k":"p","s":"pk","x":5.5,"y":0.19},{"k":"p","s":"pk","x":5.55,"y":0.21},{"k":"p","s":"pk","x":5.6,"y":0.23},{"k":"p","s":"pk","x":5.65,"y":0.24},{"k":"p","s":"pk","x":5.7,"y":0.245},{"k":"p","s":"pk","x":5.75,"y":0.24},{"k":"p","s":"pk","x":5.8,"y":0.23},{"k":"p","s":"pk","x":5.85,"y":0.24},{"k":"p","s":"pk","x":5.9,"y":0.27},{"k":"p","s":"pk","x":5.95,"y":0.3},{"k":"p","s":"pk","x":6.0,"y":0.33},{"k":"p","s":"pk","x":6.05,"y":0.36},{"k":"p","s":"pk","x":6.1,"y":0.4},{"k":"p","s":"pk","x":6.15,"y":0.45},{"k":"p","s":"pk","x":6.2,"y":0.5},{"k":"p","s":"pk","x":6.25,"y":0.58},{"k":"p","s":"pk","x":6.3,"y":0.67},{"k":"p","s":"pk","x":6.35,"y":0.76},{"k":"p","s":"pk","x":6.4,"y":0.84},{"k":"p","s":"pk","x":6.45,"y":0.92},{"k":"p","s":"pk","x":6.5,"y":0.97},{"k":"p","s":"pk","x":6.55,"y":0.99},{"k":"p","s":"pk","x":6.6,"y":1.0},{"k":"p","s":"pk","x":6.65,"y":0.98},{"k":"p","s":"pk","x":6.7,"y":0.93},{"k":"p","s":"pk","x":6.75,"y":0.87},{"k":"p","s":"pk","x":6.8,"y":0.79},{"k":"p","s":"pk","x":6.85,"y":0.74},{"k":"p","s":"pk","x":6.9,"y":0.69},{"k":"p","s":"pk","x":6.95,"y":0.64},{"k":"p","s":"pk","x":7.0,"y":0.6},{"k":"p","s":"pk","x":7.05,"y":0.53},{"k":"p","s":"pk","x":7.1,"y":0.47},{"k":"p","s":"pk","x":7.15,"y":0.42},{"k":"p","s":"pk","x":7.2,"y":0.38},{"k":"p","s":"pk","x":7.25,"y":0.35},{"k":"p","s":"pk","x":7.3,"y":0.31},{"k":"p","s":"pk","x":7.35,"y":0.26},{"k":"p","s":"pk","x":7.4,"y":0.22},{"k":"p","s":"pk","x":7.45,"y":0.19},{"k":"p","s":"pk","x":7.5,"y":0.16},{"k":"p","s":"pk","x":7.55,"y":0.14},{"k":"p","s":"pk","x":7.6,"y":0.12},{"k":"p","s":"pk","x":7.65,"y":0.1},{"k":"p","s":"pk","x":7.7,"y":0.09},{"k":"p","s":"pk","x":7.75,"y":0.085},{"k":"p","s":"pk","x":7.8,"y":0.08},{"k":"p","s":"pk","x":7.85,"y":0.07},{"k":"p","s":"pk","x":7.9,"y":0.065},{"k":"p","s":"pk","x":8.0,"y":0.11},{"k":"p","s":"pk","x":8.1,"y":0.06},{"k":"p","s":"pk","x":8.2,"y":0.055},{"k":"p","s":"pk","x":8.3,"y":0.055},{"k":"p","s":"pk","x":8.4,"y":0.05},{"k":"p","s":"pk","x":8.5,"y":0.05},{"k":"p","s":"pk","x":8.6,"y":0.05},{"k":"p","s":"pk","x":8.7,"y":0.05},{"k":"p","s":"pk","x":8.8,"y":0.045},{"k":"p","s":"pk","x":8.9,"y":0.045},{"k":"p","s":"pk","x":9.0,"y":0.04},{"k":"p","s":"pk","x":9.1,"y":0.05},{"k":"p","s":"pk","x":9.2,"y":0.05},{"k":"p","s":"pk","x":9.3,"y":0.055},{"k":"p","s":"pk","x":9.4,"y":0.05},{"k":"p","s":"pk","x":9.5,"y":0.06},{"k":"p","s":"pk","x":9.6,"y":0.055},{"k":"p","s":"pk","x":9.7,"y":0.06},{"k":"p","s":"pk","x":9.8,"y":0.065},{"k":"p","s":"pk","x":9.9,"y":0.065},{"k":"p","s":"pk","x":10.0,"y":0.07},
{"k":"pl","t":"6.60 eV","x":6.6,"y":1.08},
{"k":"pr","t":"5.70 eV","x":5.74,"y":0.47},{"k":"pr","t":"7.25 eV","x":7.34,"y":0.6},
{"k":"nm","t":"MTMS","x":7.86,"y":1.09},
{"k":"E","t":"E","x":7.86,"y":0.97},{"k":"sub","t":"em","x":7.86,"y":0.97},{"k":"rest","t":"= 4.59–4.13 eV","x":7.86,"y":0.97}
],
"b3":[
{"k":"l","s":"base","x":4.6,"y":0.105},{"k":"l","s":"base","x":7.9,"y":0.08},
{"k":"l","s":"r","x":4.66,"y":0.111},{"k":"l","s":"r","x":4.725,"y":0.114},{"k":"l","s":"r","x":4.79,"y":0.122},{"k":"l","s":"r","x":4.855,"y":0.139},{"k":"l","s":"r","x":4.92,"y":0.165},{"k":"l","s":"r","x":4.985,"y":0.189},{"k":"l","s":"r","x":5.05,"y":0.2},{"k":"l","s":"r","x":5.115,"y":0.189},{"k":"l","s":"r","x":5.18,"y":0.165},{"k":"l","s":"r","x":5.245,"y":0.139},{"k":"l","s":"r","x":5.31,"y":0.122},{"k":"l","s":"r","x":5.375,"y":0.114},{"k":"l","s":"r","x":5.44,"y":0.111},
{"k":"l","s":"b","x":4.66,"y":0.104},{"k":"l","s":"b","x":4.8,"y":0.114},{"k":"l","s":"b","x":4.94,"y":0.143},{"k":"l","s":"b","x":5.08,"y":0.204},{"k":"l","s":"b","x":5.22,"y":0.294},{"k":"l","s":"b","x":5.36,"y":0.382},{"k":"l","s":"b","x":5.5,"y":0.42},{"k":"l","s":"b","x":5.64,"y":0.382},{"k":"l","s":"b","x":5.78,"y":0.294},{"k":"l","s":"b","x":5.92,"y":0.204},{"k":"l","s":"b","x":6.06,"y":0.143},{"k":"l","s":"b","x":6.2,"y":0.114},{"k":"l","s":"b","x":6.34,"y":0.104},
{"k":"l","s":"g","x":5.69,"y":0.109},{"k":"l","s":"g","x":5.775,"y":0.137},{"k":"l","s":"g","x":5.86,"y":0.214},{"k":"l","s":"g","x":5.945,"y":0.373},{"k":"l","s":"g","x":6.03,"y":0.609},{"k":"l","s":"g","x":6.115,"y":0.841},{"k":"l","s":"g","x":6.2,"y":0.94},{"k":"l","s":"g","x":6.285,"y":0.841},{"k":"l","s":"g","x":6.37,"y":0.609},{"k":"l","s":"g","x":6.455,"y":0.373},{"k":"l","s":"g","x":6.54,"y":0.214},{"k":"l","s":"g","x":6.625,"y":0.137},{"k":"l","s":"g","x":6.71,"y":0.109},
{"k":"l","s":"m","x":6.0,"y":0.083},{"k":"l","s":"m","x":6.1,"y":0.093},{"k":"l","s":"m","x":6.2,"y":0.12},{"k":"l","s":"m","x":6.3,"y":0.176},{"k":"l","s":"m","x":6.4,"y":0.259},{"k":"l","s":"m","x":6.5,"y":0.34},{"k":"l","s":"m","x":6.6,"y":0.375},{"k":"l","s":"m","x":6.7,"y":0.34},{"k":"l","s":"m","x":6.8,"y":0.259},{"k":"l","s":"m","x":6.9,"y":0.176},{"k":"l","s":"m","x":7.0,"y":0.12},{"k":"l","s":"m","x":7.1,"y":0.093},{"k":"l","s":"m","x":7.2,"y":0.083},{"k":"l","s":"m","x":7.5,"y":0.06},{"k":"l","s":"m","x":7.9,"y":0.055},
{"k":"l","s":"c","x":6.59,"y":0.082},{"k":"l","s":"c","x":6.7,"y":0.088},{"k":"l","s":"c","x":6.81,"y":0.106},{"k":"l","s":"c","x":6.92,"y":0.142},{"k":"l","s":"c","x":7.03,"y":0.195},{"k":"l","s":"c","x":7.14,"y":0.248},{"k":"l","s":"c","x":7.25,"y":0.27},{"k":"l","s":"c","x":7.36,"y":0.248},{"k":"l","s":"c","x":7.47,"y":0.195},{"k":"l","s":"c","x":7.58,"y":0.142},{"k":"l","s":"c","x":7.69,"y":0.106},{"k":"l","s":"c","x":7.8,"y":0.088},{"k":"l","s":"c","x":7.91,"y":0.082},
{"k":"v","x":5.05,"y":0.35},{"k":"v","x":5.5,"y":0.42},{"k":"v","x":6.2,"y":1.0},{"k":"v","x":6.6,"y":0.55},{"k":"v","x":7.25,"y":0.33},
{"k":"p","s":"pk","x":4.55,"y":0.14},{"k":"p","s":"pk","x":4.6,"y":0.1},{"k":"p","s":"pk","x":4.65,"y":0.11},{"k":"p","s":"pk","x":4.7,"y":0.12},{"k":"p","s":"pk","x":4.75,"y":0.14},{"k":"p","s":"pk","x":4.8,"y":0.16},{"k":"p","s":"pk","x":4.85,"y":0.19},{"k":"p","s":"pk","x":4.9,"y":0.21},{"k":"p","s":"pk","x":4.95,"y":0.23},{"k":"p","s":"pk","x":5.0,"y":0.24},{"k":"p","s":"pk","x":5.05,"y":0.26},{"k":"p","s":"pk","x":5.1,"y":0.28},{"k":"p","s":"pk","x":5.15,"y":0.29},{"k":"p","s":"pk","x":5.2,"y":0.31},{"k":"p","s":"pk","x":5.25,"y":0.33},{"k":"p","s":"pk","x":5.3,"y":0.35},{"k":"p","s":"pk","x":5.35,"y":0.37},{"k":"p","s":"pk","x":5.4,"y":0.39},{"k":"p","s":"pk","x":5.45,"y":0.41},{"k":"p","s":"pk","x":5.5,"y":0.42},{"k":"p","s":"pk","x":5.55,"y":0.42},{"k":"p","s":"pk","x":5.6,"y":0.41},{"k":"p","s":"pk","x":5.65,"y":0.4},{"k":"p","s":"pk","x":5.7,"y":0.4},{"k":"p","s":"pk","x":5.75,"y":0.4},{"k":"p","s":"pk","x":5.8,"y":0.41},{"k":"p","s":"pk","x":5.85,"y":0.42},{"k":"p","s":"pk","x":5.9,"y":0.45},{"k":"p","s":"pk","x":5.95,"y":0.5},{"k":"p","s":"pk","x":6.0,"y":0.57},{"k":"p","s":"pk","x":6.05,"y":0.65},{"k":"p","s":"pk","x":6.1,"y":0.74},{"k":"p","s":"pk","x":6.15,"y":0.87},{"k":"p","s":"pk","x":6.2,"y":0.99},{"k":"p","s":"pk","x":6.25,"y":0.96},{"k":"p","s":"pk","x":6.3,"y":0.85},{"k":"p","s":"pk","x":6.35,"y":0.72},{"k":"p","s":"pk","x":6.4,"y":0.63},{"k":"p","s":"pk","x":6.45,"y":0.55},{"k":"p","s":"pk","x":6.5,"y":0.49},{"k":"p","s":"pk","x":6.55,"y":0.43},{"k":"p","s":"pk","x":6.6,"y":0.4},{"k":"p","s":"pk","x":6.65,"y":0.37},{"k":"p","s":"pk","x":6.7,"y":0.33},{"k":"p","s":"pk","x":6.75,"y":0.31},{"k":"p","s":"pk","x":6.8,"y":0.29},{"k":"p","s":"pk","x":6.85,"y":0.28},{"k":"p","s":"pk","x":6.9,"y":0.27},{"k":"p","s":"pk","x":6.95,"y":0.26},{"k":"p","s":"pk","x":7.0,"y":0.26},{"k":"p","s":"pk","x":7.05,"y":0.26},{"k":"p","s":"pk","x":7.1,"y":0.26},{"k":"p","s":"pk","x":7.15,"y":0.26},{"k":"p","s":"pk","x":7.2,"y":0.26},{"k":"p","s":"pk","x":7.25,"y":0.26},{"k":"p","s":"pk","x":7.3,"y":0.25},{"k":"p","s":"pk","x":7.35,"y":0.24},{"k":"p","s":"pk","x":7.4,"y":0.22},{"k":"p","s":"pk","x":7.45,"y":0.2},{"k":"p","s":"pk","x":7.5,"y":0.17},{"k":"p","s":"pk","x":7.55,"y":0.14},{"k":"p","s":"pk","x":7.6,"y":0.11},{"k":"p","s":"pk","x":7.65,"y":0.09},{"k":"p","s":"pk","x":7.7,"y":0.07},{"k":"p","s":"pk","x":7.75,"y":0.06},{"k":"p","s":"pk","x":7.8,"y":0.055},{"k":"p","s":"pk","x":7.9,"y":0.05},{"k":"p","s":"pk","x":8.0,"y":0.05},{"k":"p","s":"pk","x":8.1,"y":0.05},{"k":"p","s":"pk","x":8.2,"y":0.05},{"k":"p","s":"pk","x":8.3,"y":0.05},{"k":"p","s":"pk","x":8.4,"y":0.05},{"k":"p","s":"pk","x":8.5,"y":0.05},{"k":"p","s":"pk","x":8.6,"y":0.05},{"k":"p","s":"pk","x":8.7,"y":0.05},{"k":"p","s":"pk","x":8.8,"y":0.05},{"k":"p","s":"pk","x":8.9,"y":0.05},{"k":"p","s":"pk","x":9.0,"y":0.05},{"k":"p","s":"pk","x":9.1,"y":0.05},{"k":"p","s":"pk","x":9.2,"y":0.055},{"k":"p","s":"pk","x":9.3,"y":0.05},{"k":"p","s":"pk","x":9.4,"y":0.05},{"k":"p","s":"pk","x":9.5,"y":0.05},{"k":"p","s":"pk","x":9.6,"y":0.05},{"k":"p","s":"pk","x":9.7,"y":0.05},{"k":"p","s":"pk","x":9.8,"y":0.055},{"k":"p","s":"pk","x":9.9,"y":0.055},{"k":"p","s":"pk","x":10.0,"y":0.055},
{"k":"pl","t":"6.20 eV","x":6.2,"y":1.08},
{"k":"pr","t":"5.05 eV","x":5.09,"y":0.52},{"k":"pr","t":"5.50 eV","x":5.55,"y":0.63},{"k":"pr","t":"6.60 eV","x":6.68,"y":0.74},{"k":"pr","t":"7.25 eV","x":7.32,"y":0.48},
{"k":"nm","t":"MTMS","x":7.86,"y":1.09},
{"k":"E","t":"E","x":7.86,"y":0.97},{"k":"sub","t":"em","x":7.86,"y":0.97},{"k":"rest","t":"= 3.10–2.48 eV","x":7.86,"y":0.97}
]
},
"hconcat":[
{"vconcat":[
 {"width":292,"height":168,"data":{"name":"a1"},
  "encoding":{
   "x":{"field":"x","type":"quantitative","scale":{"domain":[1.5,5.5],"nice":false,"zero":false},"axis":{"tickCount":40,"labels":false,"title":null,"domain":false,"tickSize":{"condition":{"test":"abs(datum.value*2-round(datum.value*2))<0.001","value":-6},"value":-3}}},
   "y":{"field":"y","type":"quantitative","scale":{"domain":[0,15],"nice":false},"axis":{"tickCount":15,"format":"d","labelExpr":"datum.value % 3 == 0 ? datum.label : ''","title":null,"domain":false,"tickSize":{"condition":{"test":"datum.value % 3 == 0","value":-6},"value":-3}}}
  },
  "layer":[
   {"transform":[{"filter":"datum.k=='f'"}],"mark":{"type":"area","interpolate":"monotone","fillOpacity":0.92},"encoding":{"y":{"field":"y","type":"quantitative","stack":null},"fill":{"field":"s","type":"nominal","scale":{"domain":["g1","g2","g3","g4"],"range":["#6cc4d9","#d8a6d4","#7cc15b","#f3efc3"]},"legend":null}}},
   {"transform":[{"filter":"datum.k=='l' || (datum.k=='f' && (datum.s=='g3' || datum.s=='g4'))"}],"mark":{"type":"line","interpolate":"monotone","strokeWidth":1.3},"encoding":{"color":{"field":"s","type":"nominal","scale":{"domain":["tot","g3","g4","red","gout","gb","bb","g1","g2","r","b","g","m","c","base","bl"],"range":["#111111","#2b3fb0","#c23aa6","#d24b45","#58b84f","#58b84f","#343c9c","#111111","#111111","#e0483c","#3a3fa8","#5cbf48","#c43fb4","#5ec9e6","#5ec9e6","#3a3fa8"]},"legend":null}}},
   {"transform":[{"filter":"datum.k=='p' && datum.s=='pk'"}],"mark":{"type":"point","filled":false,"size":34,"strokeWidth":0.9,"color":"#3a3a3a"}},
   {"transform":[{"filter":"datum.k=='p' && datum.s=='pc'"}],"mark":{"type":"point","filled":false,"size":34,"strokeWidth":0.9,"color":"#2aa3b5"}},
   {"transform":[{"filter":"datum.k=='pl'"}],"mark":{"type":"text","fontSize":13},"encoding":{"text":{"field":"t"}}},
   {"transform":[{"filter":"datum.k=='pr'"}],"mark":{"type":"text","fontSize":13,"angle":270,"align":"center","baseline":"middle"},"encoding":{"text":{"field":"t"}}},
   {"transform":[{"filter":"datum.k=='nm' || datum.k=='E'"}],"mark":{"type":"text","fontSize":12,"fontWeight":"bold","align":"left","baseline":"middle"},"encoding":{"text":{"field":"t"}}},
   {"transform":[{"filter":"datum.k=='sub'"}],"mark":{"type":"text","fontSize":8,"fontWeight":"bold","fontStyle":"italic","align":"left","baseline":"middle","dx":8,"dy":3},"encoding":{"text":{"field":"t"}}},
   {"transform":[{"filter":"datum.k=='rest'"}],"mark":{"type":"text","fontSize":12,"fontWeight":"bold","align":"left","baseline":"middle","dx":20},"encoding":{"text":{"field":"t"}}},
   {"transform":[{"filter":"datum.k=='T'"}],"mark":{"type":"text","fontSize":12,"align":"left","baseline":"middle"},"encoding":{"text":{"field":"t"}}},
   {"transform":[{"filter":"datum.k=='pn'"}],"mark":{"type":"text","fontSize":26,"align":"center","baseline":"middle"},"encoding":{"text":{"field":"t"}}}
  ]},
 {"width":292,"height":168,"data":{"name":"a2"},
  "encoding":{
   "x":{"field":"x","type":"quantitative","scale":{"domain":[1.5,5.5],"nice":false,"zero":false},"axis":{"tickCount":40,"labels":false,"title":null,"domain":false,"tickSize":{"condition":{"test":"abs(datum.value*2-round(datum.value*2))<0.001","value":-6},"value":-3}}},
   "y":{"field":"y","type":"quantitative","scale":{"domain":[0,5.93],"nice":false},"axis":{"values":[0,0.5,1,1.5,2,2.5,3,3.5,4,4.5,5,5.5],"format":".1f","labelExpr":"abs(datum.value/1.5-round(datum.value/1.5))<0.001 ? datum.label : ''","title":"PL Intensity (a.u.)","titlePadding":13,"domain":false,"tickSize":{"condition":{"test":"abs(datum.value/1.5-round(datum.value/1.5))<0.001","value":-6},"value":-3}}}
  },
  "layer":[
   {"transform":[{"filter":"datum.k=='f'"}],"mark":{"type":"area","interpolate":"monotone","fillOpacity":0.92},"encoding":{"y":{"field":"y","type":"quantitative","stack":null},"fill":{"field":"s","type":"nominal","scale":{"domain":["g1","g2","g3","g4"],"range":["#6cc4d9","#d8a6d4","#7cc15b","#f3efc3"]},"legend":null}}},
   {"transform":[{"filter":"datum.k=='l'"}],"mark":{"type":"line","interpolate":"monotone","strokeWidth":1.3},"encoding":{"color":{"field":"s","type":"nominal","scale":{"domain":["tot","g3","g4","red","gout","gb","bb","g1","g2","r","b","g","m","c","base","bl"],"range":["#111111","#2b3fb0","#c23aa6","#d24b45","#58b84f","#58b84f","#343c9c","#111111","#111111","#e0483c","#3a3fa8","#5cbf48","#c43fb4","#5ec9e6","#5ec9e6","#3a3fa8"]},"legend":null}}},
   {"transform":[{"filter":"datum.k=='p' && datum.s=='pk'"}],"mark":{"type":"point","filled":false,"size":34,"strokeWidth":0.9,"color":"#3a3a3a"}},
   {"transform":[{"filter":"datum.k=='p' && datum.s=='pc'"}],"mark":{"type":"point","filled":false,"size":34,"strokeWidth":0.9,"color":"#2aa3b5"}},
   {"transform":[{"filter":"datum.k=='pl'"}],"mark":{"type":"text","fontSize":13},"encoding":{"text":{"field":"t"}}},
   {"transform":[{"filter":"datum.k=='nm' || datum.k=='E'"}],"mark":{"type":"text","fontSize":12,"fontWeight":"bold","align":"left","baseline":"middle"},"encoding":{"text":{"field":"t"}}},
   {"transform":[{"filter":"datum.k=='sub'"}],"mark":{"type":"text","fontSize":8,"fontWeight":"bold","fontStyle":"italic","align":"left","baseline":"middle","dx":8,"dy":3},"encoding":{"text":{"field":"t"}}},
   {"transform":[{"filter":"datum.k=='rest'"}],"mark":{"type":"text","fontSize":12,"fontWeight":"bold","align":"left","baseline":"middle","dx":20},"encoding":{"text":{"field":"t"}}},
   {"transform":[{"filter":"datum.k=='T'"}],"mark":{"type":"text","fontSize":12,"align":"left","baseline":"middle"},"encoding":{"text":{"field":"t"}}}
  ]},
 {"width":292,"height":168,"data":{"name":"a3"},
  "encoding":{
   "x":{"field":"x","type":"quantitative","scale":{"domain":[1.5,5.5],"nice":false,"zero":false},"axis":{"tickCount":40,"format":".1f","labelExpr":"abs(datum.value*2-round(datum.value*2))<0.001 ? datum.label : ''","title":"Photon Energy (eV)","titlePadding":1,"domain":false,"tickSize":{"condition":{"test":"abs(datum.value*2-round(datum.value*2))<0.001","value":-6},"value":-3}}},
   "y":{"field":"y","type":"quantitative","scale":{"domain":[0,162],"nice":false},"axis":{"tickCount":8,"format":"d","labelExpr":"datum.value % 40 == 0 && datum.value < 150 ? datum.label : ''","title":null,"domain":false,"tickSize":{"condition":{"test":"datum.value % 40 == 0","value":-6},"value":-3}}}
  },
  "layer":[
   {"transform":[{"filter":"datum.k=='f'"}],"mark":{"type":"area","interpolate":"monotone","fillOpacity":0.92},"encoding":{"y":{"field":"y","type":"quantitative","stack":null},"fill":{"field":"s","type":"nominal","scale":{"domain":["g1","g2","g3","g4"],"range":["#6cc4d9","#d8a6d4","#7cc15b","#f3efc3"]},"legend":null}}},
   {"transform":[{"filter":"datum.k=='l'"}],"mark":{"type":"line","interpolate":"monotone","strokeWidth":1.3},"encoding":{"color":{"field":"s","type":"nominal","scale":{"domain":["tot","g3","g4","red","gout","gb","bb","g1","g2","r","b","g","m","c","base","bl"],"range":["#111111","#2b3fb0","#c23aa6","#d24b45","#58b84f","#58b84f","#343c9c","#111111","#111111","#e0483c","#3a3fa8","#5cbf48","#c43fb4","#5ec9e6","#5ec9e6","#3a3fa8"]},"legend":null}}},
   {"transform":[{"filter":"datum.k=='p' && datum.s=='pk'"}],"mark":{"type":"point","filled":false,"size":34,"strokeWidth":0.9,"color":"#3a3a3a"}},
   {"transform":[{"filter":"datum.k=='p' && datum.s=='pc'"}],"mark":{"type":"point","filled":false,"size":34,"strokeWidth":0.9,"color":"#2aa3b5"}},
   {"transform":[{"filter":"datum.k=='pl'"}],"mark":{"type":"text","fontSize":13},"encoding":{"text":{"field":"t"}}},
   {"transform":[{"filter":"datum.k=='nm' || datum.k=='E'"}],"mark":{"type":"text","fontSize":12,"fontWeight":"bold","align":"left","baseline":"middle"},"encoding":{"text":{"field":"t"}}},
   {"transform":[{"filter":"datum.k=='sub'"}],"mark":{"type":"text","fontSize":8,"fontWeight":"bold","fontStyle":"italic","align":"left","baseline":"middle","dx":8,"dy":3},"encoding":{"text":{"field":"t"}}},
   {"transform":[{"filter":"datum.k=='rest'"}],"mark":{"type":"text","fontSize":12,"fontWeight":"bold","align":"left","baseline":"middle","dx":20},"encoding":{"text":{"field":"t"}}},
   {"transform":[{"filter":"datum.k=='T'"}],"mark":{"type":"text","fontSize":12,"align":"left","baseline":"middle"},"encoding":{"text":{"field":"t"}}}
  ]}
 ],"spacing":0,"bounds":"flush"},
{"vconcat":[
 {"width":295,"height":170,"data":{"name":"b1"},
  "encoding":{
   "x":{"field":"x","type":"quantitative","scale":{"domain":[4,10],"nice":false,"zero":false},"axis":{"tickCount":60,"labels":false,"title":null,"domain":false,"tickSize":{"condition":{"test":"abs(datum.value-round(datum.value))<0.001","value":-6},"value":-3}}},
   "y":{"field":"y","type":"quantitative","scale":{"domain":[0,1.212],"nice":false},"axis":{"tickCount":12,"format":".1f","labelExpr":"abs(datum.value/0.3-round(datum.value/0.3))<0.001 ? datum.label : ''","title":null,"domain":false,"tickSize":{"condition":{"test":"abs(datum.value/0.3-round(datum.value/0.3))<0.001","value":-6},"value":-3}}}
  },
  "layer":[
   {"transform":[{"filter":"datum.k=='l'"}],"mark":{"type":"line","interpolate":"monotone","strokeWidth":1.3},"encoding":{"color":{"field":"s","type":"nominal","scale":{"domain":["tot","g3","g4","red","gout","gb","bb","g1","g2","r","b","g","m","c","base","bl"],"range":["#111111","#2b3fb0","#c23aa6","#d24b45","#58b84f","#58b84f","#343c9c","#111111","#111111","#e0483c","#3a3fa8","#5cbf48","#c43fb4","#5ec9e6","#5ec9e6","#3a3fa8"]},"legend":null}}},
   {"transform":[{"filter":"datum.k=='v'"}],"mark":{"type":"rule","color":"#8a8a8a","strokeWidth":1.3},"encoding":{"y":{"field":"y","type":"quantitative"},"y2":{"datum":0}}},
   {"transform":[{"filter":"datum.k=='v'"}],"mark":{"type":"point","shape":"triangle-down","filled":true,"color":"#111111","size":26,"opacity":1},"encoding":{"y":{"datum":0.03,"type":"quantitative"}}},
   {"transform":[{"filter":"datum.k=='p'"}],"mark":{"type":"point","filled":false,"size":22,"strokeWidth":1,"color":"#1f3b3b"}},
   {"transform":[{"filter":"datum.k=='pl'"}],"mark":{"type":"text","fontSize":13},"encoding":{"text":{"field":"t"}}},
   {"transform":[{"filter":"datum.k=='pr'"}],"mark":{"type":"text","fontSize":13,"angle":270,"align":"center","baseline":"middle"},"encoding":{"text":{"field":"t"}}},
   {"transform":[{"filter":"datum.k=='nm' || datum.k=='E'"}],"mark":{"type":"text","fontSize":12,"fontWeight":"bold","align":"left","baseline":"middle"},"encoding":{"text":{"field":"t"}}},
   {"transform":[{"filter":"datum.k=='sub'"}],"mark":{"type":"text","fontSize":8,"fontWeight":"bold","align":"left","baseline":"middle","dx":8,"dy":4},"encoding":{"text":{"field":"t"}}},
   {"transform":[{"filter":"datum.k=='rest'"}],"mark":{"type":"text","fontSize":11,"fontWeight":"bold","align":"left","baseline":"middle","dx":19},"encoding":{"text":{"field":"t"}}},
   {"transform":[{"filter":"datum.k=='pn'"}],"mark":{"type":"text","fontSize":26,"align":"center","baseline":"middle"},"encoding":{"text":{"field":"t"}}}
  ]},
 {"width":295,"height":170,"data":{"name":"b2"},
  "encoding":{
   "x":{"field":"x","type":"quantitative","scale":{"domain":[4,10],"nice":false,"zero":false},"axis":{"tickCount":60,"labels":false,"title":null,"domain":false,"tickSize":{"condition":{"test":"abs(datum.value-round(datum.value))<0.001","value":-6},"value":-3}}},
   "y":{"field":"y","type":"quantitative","scale":{"domain":[0,1.212],"nice":false},"axis":{"tickCount":12,"format":".1f","labelExpr":"abs(datum.value/0.3-round(datum.value/0.3))<0.001 && datum.value<1.1 ? datum.label : ''","title":"PLE Intensity (a.u.)","titlePadding":13,"domain":false,"tickSize":{"condition":{"test":"abs(datum.value/0.3-round(datum.value/0.3))<0.001","value":-6},"value":-3}}}
  },
  "layer":[
   {"transform":[{"filter":"datum.k=='l'"}],"mark":{"type":"line","interpolate":"monotone","strokeWidth":1.3},"encoding":{"color":{"field":"s","type":"nominal","scale":{"domain":["tot","g3","g4","red","gout","gb","bb","g1","g2","r","b","g","m","c","base","bl"],"range":["#111111","#2b3fb0","#c23aa6","#d24b45","#58b84f","#58b84f","#343c9c","#111111","#111111","#e0483c","#3a3fa8","#5cbf48","#c43fb4","#5ec9e6","#5ec9e6","#3a3fa8"]},"legend":null}}},
   {"transform":[{"filter":"datum.k=='v'"}],"mark":{"type":"rule","color":"#8a8a8a","strokeWidth":1.3},"encoding":{"y":{"field":"y","type":"quantitative"},"y2":{"datum":0}}},
   {"transform":[{"filter":"datum.k=='v'"}],"mark":{"type":"point","shape":"triangle-down","filled":true,"color":"#111111","size":26,"opacity":1},"encoding":{"y":{"datum":0.03,"type":"quantitative"}}},
   {"transform":[{"filter":"datum.k=='p'"}],"mark":{"type":"point","filled":false,"size":22,"strokeWidth":1,"color":"#1f3b3b"}},
   {"transform":[{"filter":"datum.k=='pl'"}],"mark":{"type":"text","fontSize":13},"encoding":{"text":{"field":"t"}}},
   {"transform":[{"filter":"datum.k=='pr'"}],"mark":{"type":"text","fontSize":13,"angle":270,"align":"center","baseline":"middle"},"encoding":{"text":{"field":"t"}}},
   {"transform":[{"filter":"datum.k=='nm' || datum.k=='E'"}],"mark":{"type":"text","fontSize":12,"fontWeight":"bold","align":"left","baseline":"middle"},"encoding":{"text":{"field":"t"}}},
   {"transform":[{"filter":"datum.k=='sub'"}],"mark":{"type":"text","fontSize":8,"fontWeight":"bold","align":"left","baseline":"middle","dx":8,"dy":4},"encoding":{"text":{"field":"t"}}},
   {"transform":[{"filter":"datum.k=='rest'"}],"mark":{"type":"text","fontSize":11,"fontWeight":"bold","align":"left","baseline":"middle","dx":19},"encoding":{"text":{"field":"t"}}}
  ]},
 {"width":295,"height":170,"data":{"name":"b3"},
  "encoding":{
   "x":{"field":"x","type":"quantitative","scale":{"domain":[4,10],"nice":false,"zero":false},"axis":{"tickCount":60,"format":"d","labelExpr":"abs(datum.value-round(datum.value))<0.001 ? datum.label : ''","title":"Photon Energy (eV)","titlePadding":1,"domain":false,"tickSize":{"condition":{"test":"abs(datum.value-round(datum.value))<0.001","value":-6},"value":-3}}},
   "y":{"field":"y","type":"quantitative","scale":{"domain":[0,1.212],"nice":false},"axis":{"tickCount":12,"format":".1f","labelExpr":"abs(datum.value/0.3-round(datum.value/0.3))<0.001 && datum.value<1.1 ? datum.label : ''","title":null,"domain":false,"tickSize":{"condition":{"test":"abs(datum.value/0.3-round(datum.value/0.3))<0.001","value":-6},"value":-3}}}
  },
  "layer":[
   {"transform":[{"filter":"datum.k=='l'"}],"mark":{"type":"line","interpolate":"monotone","strokeWidth":1.3},"encoding":{"color":{"field":"s","type":"nominal","scale":{"domain":["tot","g3","g4","red","gout","gb","bb","g1","g2","r","b","g","m","c","base","bl"],"range":["#111111","#2b3fb0","#c23aa6","#d24b45","#58b84f","#58b84f","#343c9c","#111111","#111111","#e0483c","#3a3fa8","#5cbf48","#c43fb4","#5ec9e6","#5ec9e6","#3a3fa8"]},"legend":null}}},
   {"transform":[{"filter":"datum.k=='v'"}],"mark":{"type":"rule","color":"#8a8a8a","strokeWidth":1.3},"encoding":{"y":{"field":"y","type":"quantitative"},"y2":{"datum":0}}},
   {"transform":[{"filter":"datum.k=='v'"}],"mark":{"type":"point","shape":"triangle-down","filled":true,"color":"#111111","size":26,"opacity":1},"encoding":{"y":{"datum":0.03,"type":"quantitative"}}},
   {"transform":[{"filter":"datum.k=='p'"}],"mark":{"type":"point","filled":false,"size":22,"strokeWidth":1,"color":"#1f3b3b"}},
   {"transform":[{"filter":"datum.k=='pl'"}],"mark":{"type":"text","fontSize":13},"encoding":{"text":{"field":"t"}}},
   {"transform":[{"filter":"datum.k=='pr'"}],"mark":{"type":"text","fontSize":13,"angle":270,"align":"center","baseline":"middle"},"encoding":{"text":{"field":"t"}}},
   {"transform":[{"filter":"datum.k=='nm' || datum.k=='E'"}],"mark":{"type":"text","fontSize":12,"fontWeight":"bold","align":"left","baseline":"middle"},"encoding":{"text":{"field":"t"}}},
   {"transform":[{"filter":"datum.k=='sub'"}],"mark":{"type":"text","fontSize":8,"fontWeight":"bold","align":"left","baseline":"middle","dx":8,"dy":4},"encoding":{"text":{"field":"t"}}},
   {"transform":[{"filter":"datum.k=='rest'"}],"mark":{"type":"text","fontSize":11,"fontWeight":"bold","align":"left","baseline":"middle","dx":19},"encoding":{"text":{"field":"t"}}}
  ]}
 ],"spacing":0,"bounds":"flush"}
],
"spacing":26
}
